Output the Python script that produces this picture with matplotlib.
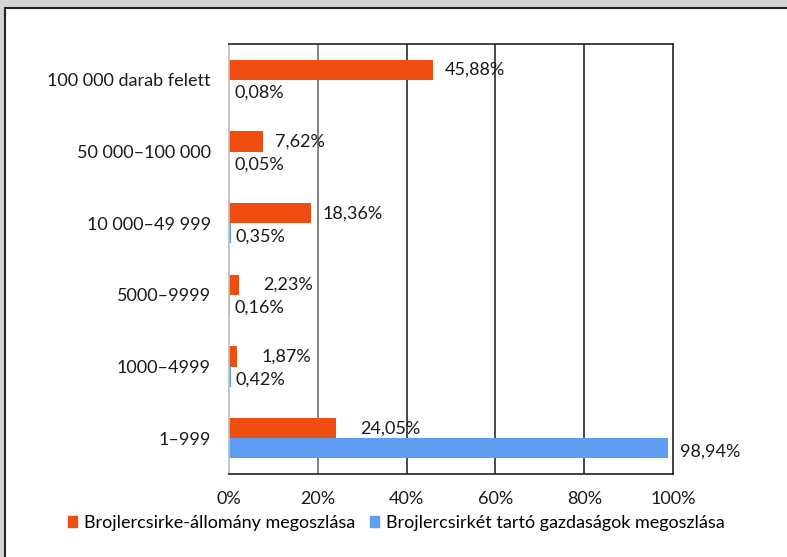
import numpy as np
import matplotlib
matplotlib.use("Agg")
from matplotlib import pyplot as plt
from matplotlib.patches import Rectangle, Patch

plt.rcParams['font.family'] = ['Lato', 'DejaVu Sans']

categories = ['100 000 darab felett', '50 000–100 000', '10 000–49 999',
              '5000–9999', '1000–4999', '1–999']
allomany = [45.88, 7.62, 18.36, 2.23, 1.87, 24.05]
gazdasag = [0.08, 0.05, 0.35, 0.16, 0.42, 98.94]
xticks = [0, 20, 40, 60, 80, 100]
series_names = ['Brojlercsirke-állomány megoszlása',
                'Brojlercsirkét tartó gazdaságok megoszlása']

orange = '#EF4E10'
blue = '#5E9DF2'
fs = 13


def fmt(v):
    return ('%.2f%%' % v).replace('.', ',')


fig = plt.figure(figsize=(7.87, 5.57), dpi=100)
fig.patch.set_facecolor('#d4d4d4')
# white panel with dark frame
fig.patches.append(Rectangle((5 / 787, -0.05), 1.2, 1 - 8 / 557 + 0.05,
                             transform=fig.transFigure, facecolor='white',
                             edgecolor='#222222', lw=1.5, zorder=-5))

ax = fig.add_axes([229 / 787, 1 - 474 / 557, 444 / 787, 430 / 557])
ax.set_facecolor('white')

y = np.arange(len(categories))
h = 0.28
ax.barh(y - h / 2, allomany, height=h, color=orange, zorder=2)
ax.barh(y + h / 2, gazdasag, height=h, color=blue, zorder=2)

ax.set_xlim(0, 100)
ax.set_ylim(len(categories) - 0.5, -0.5)
ax.set_yticks(y)
ax.set_yticklabels(categories, fontsize=fs, color='#1a1a1a')
ax.set_xticks(xticks)
ax.set_xticklabels(['%d%%' % t for t in xticks], fontsize=fs, color='#1a1a1a')
ax.tick_params(axis='y', length=0, pad=13)
ax.tick_params(axis='x', length=0, pad=12)

for t in xticks[1:-1]:
    ax.axvline(t, color='#6b7070' if t == 20 else '#2a2a2a', lw=1.2, zorder=1)

for side in ['top', 'right', 'bottom']:
    ax.spines[side].set_color('#222222')
    ax.spines[side].set_linewidth(1.2)
ax.spines['left'].set_color('#b8c0c0')
ax.spines['left'].set_linewidth(1.2)

# value labels
for i, v in enumerate(allomany):
    pad = 24 if (v < 3 or v == 24.05) else 12
    ax.annotate(fmt(v), (v, i - h / 2), xytext=(pad, 0),
                textcoords='offset pixels', va='center', ha='left',
                fontsize=fs, color='#1a1a1a', zorder=3)
for i, v in enumerate(gazdasag):
    pad = 12 if v > 50 else 5
    ax.annotate(fmt(v), (v, i + h / 2), xytext=(pad, -3),
                textcoords='offset pixels', va='center', ha='left',
                fontsize=fs, color='#1a1a1a', zorder=3)

handles = [Patch(color=orange, label=series_names[0]),
           Patch(color=blue, label=series_names[1])]
fig.legend(handles=handles, loc='center', bbox_to_anchor=(0.504, 1 - 523 / 557),
           ncol=2, frameon=False, fontsize=fs, handlelength=0.5,
           handleheight=0.5, handletextpad=0.4, columnspacing=0.8)

fig.savefig('out.png', dpi=100, facecolor=fig.get_facecolor())
